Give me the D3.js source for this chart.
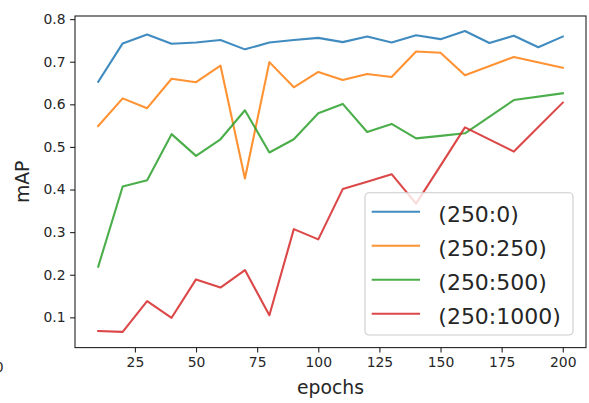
<!DOCTYPE html>
<html>
<head>
<meta charset="utf-8">
<script src="https://cdn.jsdelivr.net/npm/d3@7"></script>
<style>
  body { margin: 0; background: #fff; }
  svg { font-family: "DejaVu Sans", sans-serif; }
</style>
</head>
<body>
<svg id="chart" width="589" height="403"></svg>
<script>
// data
var epochsAll = [10, 20, 30, 40, 50, 60, 70, 80, 90, 100, 110, 120, 130, 140, 150, 160, 170, 180, 190, 200];
var epochsPart = [10, 20, 30, 40, 50, 60, 70, 80, 90, 100, 110, 120, 130, 140, 150, 160, 180, 200];

var map0 = [0.653, 0.743, 0.764, 0.742, 0.745, 0.751, 0.729, 0.745, 0.751, 0.756,
            0.746, 0.759, 0.745, 0.762, 0.753, 0.772, 0.744, 0.761, 0.734, 0.759];
var map250 = [0.549, 0.614, 0.591, 0.660, 0.652, 0.691, 0.426, 0.699, 0.640, 0.676,
              0.657, 0.671, 0.664, 0.724, 0.721, 0.668, 0.711, 0.686];
var map500 = [0.219, 0.407, 0.422, 0.530, 0.479, 0.518, 0.586, 0.487, 0.518, 0.579,
              0.601, 0.535, 0.554, 0.520, 0.526, 0.532, 0.610, 0.626];
var map1000 = [0.068, 0.066, 0.138, 0.099, 0.189, 0.170, 0.211, 0.105, 0.307, 0.283,
               0.401, 0.418, 0.436, 0.367, 0.456, 0.546, 0.489, 0.604];

var labels = ["(250:0)", "(250:250)", "(250:500)", "(250:1000)"];
var colors = ["#1f77b4", "#ff7f0e", "#2ca02c", "#d62728"];
var xTicks = [25, 50, 75, 100, 125, 150, 175, 200];
var yTicks = [0.1, 0.2, 0.3, 0.4, 0.5, 0.6, 0.7, 0.8];

var series = [
  { name: labels[0], x: epochsAll, y: map0 },
  { name: labels[1], x: epochsPart, y: map250 },
  { name: labels[2], x: epochsPart, y: map500 },
  { name: labels[3], x: epochsPart, y: map1000 }
];

var plotLeft = 75, plotRight = 586, plotTop = 16, plotBottom = 347.6;

var svg = d3.select("#chart");

var x = d3.scaleLinear().domain([0.5, 209.5]).range([plotLeft, plotRight]);
var y = d3.scaleLinear().domain([0.029, 0.8073]).range([plotBottom, plotTop]);

// lines
var line = d3.line()
  .x(function (d) { return x(d[0]); })
  .y(function (d) { return y(d[1]); });

svg.append("g")
  .selectAll("path")
  .data(series)
  .enter().append("path")
    .attr("d", function (s) { return line(d3.zip(s.x, s.y)); })
    .attr("fill", "none")
    .attr("stroke", function (s, i) { return colors[i]; })
    .attr("stroke-opacity", 0.85)
    .attr("stroke-width", 2.1)
    .attr("stroke-linejoin", "round")
    .attr("stroke-linecap", "square");

// axes
var xAxis = d3.axisBottom(x).tickValues(xTicks).tickSize(4.9).tickPadding(4.5).tickFormat(d3.format("d"));
var yAxis = d3.axisLeft(y).tickValues(yTicks).tickSize(4.9).tickPadding(4.5).tickFormat(d3.format(".1f"));

var gx = svg.append("g").attr("transform", "translate(0," + plotBottom + ")").call(xAxis);
var gy = svg.append("g").attr("transform", "translate(" + plotLeft + ",0)").call(yAxis);

[gx, gy].forEach(function (g) {
  g.select(".domain").remove();
  g.selectAll(".tick line").attr("stroke", "#222").attr("stroke-width", 1.1);
  g.selectAll(".tick text")
    .attr("fill", "#262626")
    .style("font-size", "13.9px")
    .style("font-family", "DejaVu Sans");
});

// spines
svg.append("rect")
  .attr("x", plotLeft).attr("y", plotTop)
  .attr("width", plotRight - plotLeft).attr("height", plotBottom - plotTop)
  .attr("fill", "none")
  .attr("stroke", "#222")
  .attr("stroke-width", 1.1);

// axis labels
svg.append("text")
  .attr("x", (plotLeft + plotRight) / 2)
  .attr("y", 394)
  .attr("text-anchor", "middle")
  .attr("fill", "#262626")
  .style("font-size", "18.8px")
  .text("epochs");

svg.append("text")
  .attr("transform", "translate(29," + ((plotTop + plotBottom) / 2) + ") rotate(-90)")
  .attr("text-anchor", "middle")
  .attr("fill", "#262626")
  .style("font-size", "18.8px")
  .text("mAP");

// clipped leftover label at the left edge (as in the reference)
svg.append("text")
  .attr("x", 3.5)
  .attr("y", 372)
  .attr("text-anchor", "end")
  .attr("fill", "#262626")
  .style("font-size", "13.9px")
  .text("0");

// legend
var legend = svg.append("g").attr("transform", "translate(365,192.7)");

legend.append("rect")
  .attr("width", 208)
  .attr("height", 142.3)
  .attr("rx", 4)
  .attr("fill", "#fff")
  .attr("fill-opacity", 0.8)
  .attr("stroke", "#cccccc")
  .attr("stroke-width", 1.1);

var item = legend.selectAll(".item")
  .data(series)
  .enter().append("g")
    .attr("class", "item")
    .attr("transform", function (d, i) { return "translate(0," + (19 + i * 34) + ")"; });

item.append("line")
  .attr("x1", 6.7).attr("x2", 55)
  .attr("stroke", function (d, i) { return colors[i]; })
  .attr("stroke-opacity", 0.85)
  .attr("stroke-width", 2.1);

item.append("text")
  .attr("x", 73.3)
  .attr("y", 10.5)
  .attr("fill", "#262626")
  .style("font-size", "22px")
  .text(function (d) { return d.name; });
</script>
</body>
</html>
